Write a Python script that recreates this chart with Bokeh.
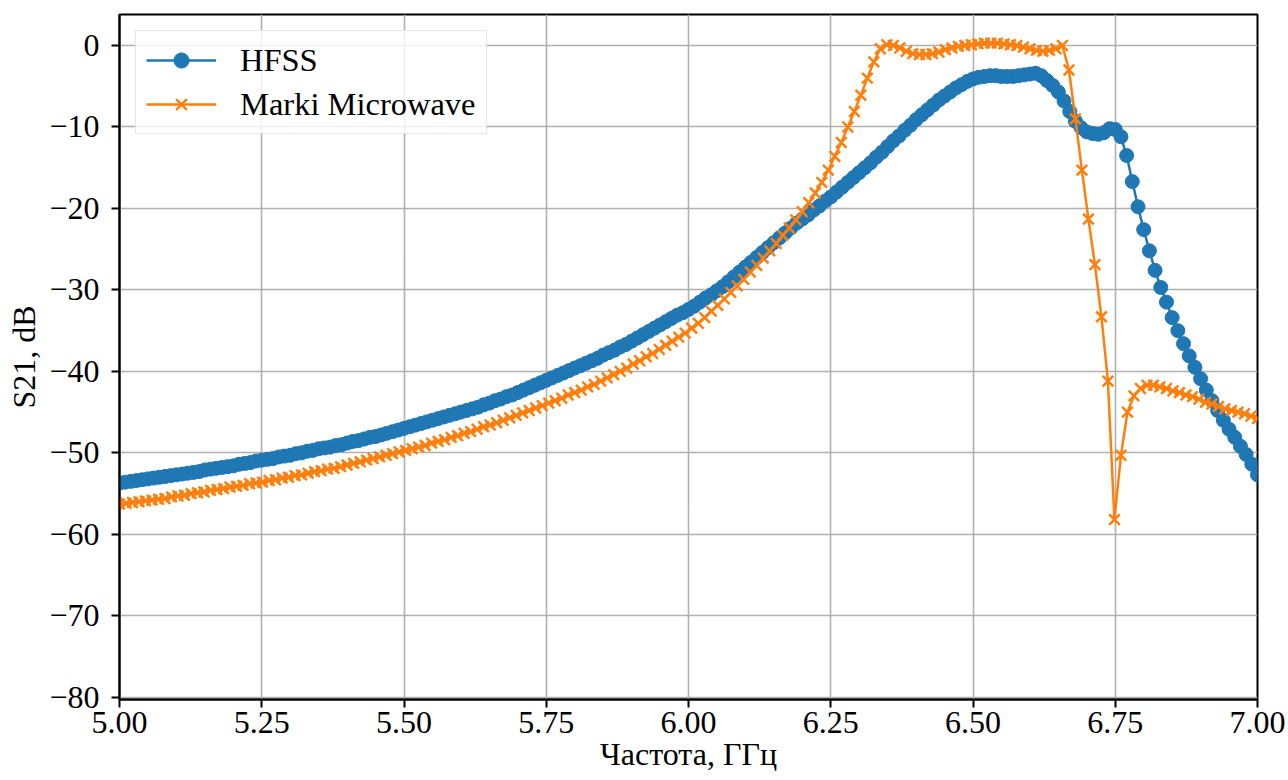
import numpy as np
from bokeh.plotting import figure
from bokeh.models import (FixedTicker, CustomJSTickFormatter, Legend, LegendItem,
                          Range1d)
from bokeh.embed import file_html
from bokeh.resources import INLINE

# ---------------- data ----------------
hfss_freq = np.round(5.0 + np.arange(201) * 0.01, 4)
hfss_s21 = [
    -53.7, -53.6, -53.5, -53.4, -53.3, -53.2, -53.1, -53.0, -52.9, -52.8,
    -52.7, -52.6, -52.5, -52.4, -52.3, -52.1, -52.0, -51.9, -51.8, -51.7,
    -51.6, -51.4, -51.3, -51.2, -51.0, -50.9, -50.8, -50.7, -50.5, -50.4,
    -50.3, -50.1, -50.0, -49.8, -49.7, -49.5, -49.4, -49.3, -49.1, -49.0,
    -48.8, -48.6, -48.5, -48.3, -48.1, -48.0, -47.8, -47.6, -47.4, -47.2,
    -47.0, -46.8, -46.6, -46.4, -46.2, -46.0, -45.8, -45.6, -45.4, -45.2,
    -45.0, -44.8, -44.6, -44.4, -44.1, -43.9, -43.6, -43.4, -43.1, -42.9,
    -42.6, -42.3, -42.0, -41.7, -41.4, -41.1, -40.8, -40.5, -40.2, -39.9,
    -39.6, -39.3, -39.0, -38.7, -38.4, -38.0, -37.7, -37.4, -37.0, -36.7,
    -36.3, -35.9, -35.5, -35.1, -34.7, -34.3, -33.9, -33.5, -33.1, -32.8,
    -32.4, -32.0, -31.5, -31.0, -30.6, -30.1, -29.6, -29.0, -28.4, -27.8,
    -27.2, -26.6, -26.0, -25.4, -24.8, -24.2, -23.6, -23.0, -22.4, -21.8,
    -21.3, -20.8, -20.2, -19.7, -19.1, -18.6, -18.0, -17.4, -16.8, -16.2,
    -15.6, -15.0, -14.4, -13.7, -13.1, -12.4, -11.7, -11.1, -10.4, -9.8,
    -9.1, -8.5, -7.9, -7.3, -6.7, -6.2, -5.7, -5.2, -4.8, -4.4,
    -4.1, -3.9, -3.8, -3.7, -3.7, -3.8, -3.8, -3.8, -3.7, -3.6,
    -3.5, -3.4, -3.7, -4.3, -4.9, -5.7, -6.8, -8.1, -9.3, -10.1,
    -10.6, -10.8, -10.9, -10.7, -10.2, -10.3, -11.2, -13.5, -16.7, -19.8,
    -22.6, -25.2, -27.6, -29.7, -31.5, -33.4, -35.0, -36.6, -38.1, -39.5,
    -40.9, -42.3, -43.6, -44.8, -46.0, -47.1, -48.1, -49.2, -50.2, -51.4,
    -52.7,
]

marki_freq = np.linspace(5.0, 7.0, 176)
marki_s21 = [
    -56.3, -56.2, -56.1, -56.0, -55.9, -55.8, -55.7, -55.6, -55.4, -55.3,
    -55.2, -55.0, -54.9, -54.8, -54.6, -54.5, -54.4, -54.2, -54.1, -54.0,
    -53.8, -53.7, -53.6, -53.4, -53.3, -53.1, -53.0, -52.8, -52.7, -52.5,
    -52.3, -52.2, -52.0, -51.9, -51.7, -51.5, -51.3, -51.1, -50.9, -50.7,
    -50.5, -50.3, -50.1, -49.9, -49.7, -49.5, -49.3, -49.1, -48.8, -48.6,
    -48.4, -48.1, -47.9, -47.6, -47.4, -47.1, -46.8, -46.6, -46.3, -46.0,
    -45.7, -45.4, -45.1, -44.8, -44.5, -44.2, -43.9, -43.6, -43.3, -42.9,
    -42.6, -42.3, -41.9, -41.6, -41.2, -40.8, -40.4, -40.0, -39.6, -39.1,
    -38.7, -38.2, -37.8, -37.3, -36.8, -36.3, -35.8, -35.3, -34.7, -34.1,
    -33.4, -32.6, -31.9, -31.1, -30.3, -29.5, -28.7, -27.8, -27.0, -26.1,
    -25.2, -24.3, -23.3, -22.4, -21.4, -20.4, -19.3, -18.1, -16.8, -15.3,
    -13.6, -11.9, -10.0, -8.1, -6.1, -4.0, -2.0, -0.4, 0.1, 0.0,
    -0.3, -0.7, -1.0, -1.1, -1.1, -1.0, -0.8, -0.5, -0.3, -0.1,
    0.0, 0.1, 0.2, 0.3, 0.3, 0.3, 0.2, 0.1, 0.0, -0.2,
    -0.4, -0.6, -0.7, -0.6, -0.4, 0.0, -3.0, -9.0, -15.3, -21.3,
    -26.9, -33.3, -41.2, -58.2, -50.3, -45.0, -43.0, -42.1, -41.7, -41.7,
    -41.9, -42.1, -42.4, -42.6, -42.9, -43.1, -43.4, -43.8, -44.0, -44.3,
    -44.6, -44.8, -45.0, -45.2, -45.5, -45.8,
]

x_ticks = [5.0, 5.25, 5.5, 5.75, 6.0, 6.25, 6.5, 6.75, 7.0]
y_ticks = [-80, -70, -60, -50, -40, -30, -20, -10, 0]
series_names = ["HFSS", "Marki Microwave"]
x_label = "Частота, ГГц"
y_label = "S21, dB"

# ---------------- style ----------------
FONT = "Liberation Serif"
FS = "32px"
BLUE = "#1f77b4"
ORANGE = "#ff7f0e"

p = figure(width=1288, height=780, output_backend="svg", toolbar_location=None,
           x_range=Range1d(5.0, 7.0), y_range=Range1d(-80.28, 3.81),
           min_border_left=119, min_border_right=31, min_border_top=14,
           min_border_bottom=81)

p.background_fill_color = "white"
p.border_fill_color = "white"
p.outline_line_color = "black"
p.outline_line_width = 2

p.xaxis.ticker = FixedTicker(ticks=x_ticks)
p.yaxis.ticker = FixedTicker(ticks=y_ticks)
p.xaxis.formatter = CustomJSTickFormatter(code="return tick.toFixed(2);")
p.yaxis.formatter = CustomJSTickFormatter(
    code="return (tick < 0 ? '\u2212' : '') + Math.abs(tick).toFixed(0);")

for ax in (p.xaxis, p.yaxis):
    ax.axis_line_color = "black"
    ax.axis_line_width = 2
    ax.major_tick_line_color = "black"
    ax.major_tick_line_width = 2
    ax.major_tick_out = 8
    ax.major_tick_in = 0
    ax.minor_tick_line_color = None
    ax.major_label_text_font = FONT
    ax.major_label_text_font_size = FS
    ax.major_label_text_color = "black"
    ax.axis_label_text_font = FONT
    ax.axis_label_text_font_size = FS
    ax.axis_label_text_font_style = "normal"
    ax.axis_label_text_color = "black"

p.xaxis.major_label_standoff = 4
p.xaxis.axis_label = x_label
p.xaxis.axis_label_standoff = 0
p.yaxis.major_label_standoff = 12
p.yaxis.axis_label = y_label
p.yaxis.axis_label_standoff = 4

p.grid.grid_line_color = "#b0b0b0"
p.grid.grid_line_width = 1.6

l1 = p.line(hfss_freq, hfss_s21, line_color=BLUE, line_width=2.5)
s1 = p.scatter(hfss_freq, hfss_s21, marker="circle", size=14,
               fill_color=BLUE, line_color=BLUE, line_width=1)
l2 = p.line(marki_freq, marki_s21, line_color=ORANGE, line_width=2.5)
s2 = p.scatter(marki_freq, marki_s21, marker="x", size=15,
               line_color=ORANGE, line_width=2.5)

legend = Legend(items=[LegendItem(label=series_names[0], renderers=[l1, s1]),
                       LegendItem(label=series_names[1], renderers=[l2, s2])],
                location="top_left", margin=16, padding=10, spacing=6,
                glyph_width=70, glyph_height=38, label_height=38,
                label_standoff=24,
                label_text_font=FONT, label_text_font_size="32.5px",
                label_text_color="black",
                border_line_color="#cccccc", border_line_width=1.5,
                background_fill_color="white", background_fill_alpha=0.8)
p.add_layout(legend)

open("out.html", "w").write(file_html(p, INLINE))
